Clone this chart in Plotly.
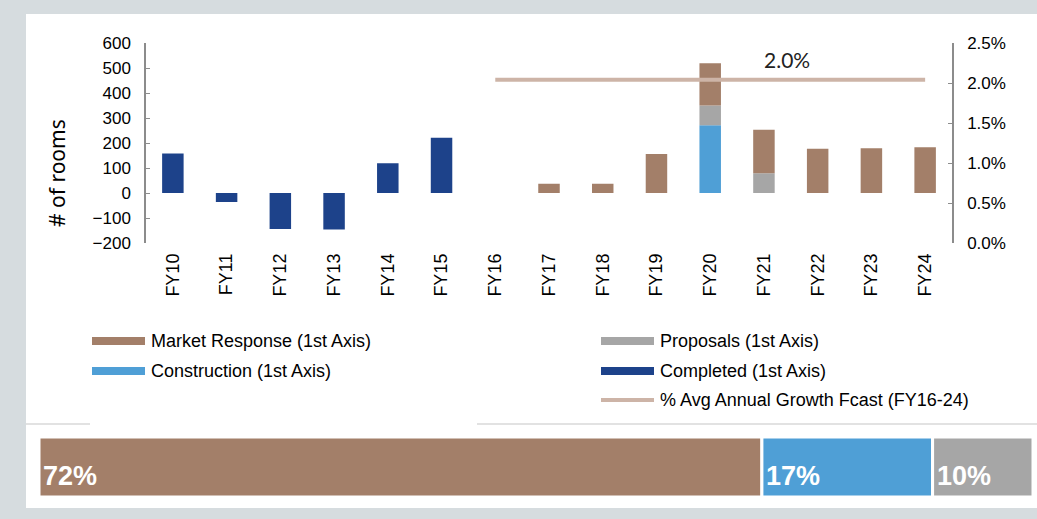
import plotly.graph_objects as go

# data
years = ["FY10", "FY11", "FY12", "FY13", "FY14", "FY15", "FY16", "FY17",
         "FY18", "FY19", "FY20", "FY21", "FY22", "FY23", "FY24"]
completed = [158, -36, -144, -146, 119, 221, None, None,
             None, None, None, None, None, None, None]
construction = [None, None, None, None, None, None, None, None,
                None, None, 271, None, None, None, None]
proposals = [None, None, None, None, None, None, None, None,
             None, None, 79, 79, None, None, None]
market_response = [None, None, None, None, None, None, None, 37,
                   37, 156, 169, 174, 177, 179, 183]
growth_years = ["FY16", "FY17", "FY18", "FY19", "FY20", "FY21", "FY22", "FY23", "FY24"]
growth_pct = [2.04, 2.04, 2.04, 2.04, 2.04, 2.04, 2.04, 2.04, 2.04]
growth_label = 2.0

share_names = ["Market Response", "Construction", "Proposals"]
share_pct = [72, 17, 10]

# colours
C_MARKET = "#A37F69"
C_CONSTR = "#4F9FD6"
C_PROP = "#A6A6A6"
C_DONE = "#1D428A"
C_LINE = "#CDB4A7"
C_FRAME = "#D6DCDF"
C_AXIS = "#8C8C8C"

W, H = 1037, 519
FONT = "Liberation Sans, Arial, sans-serif"


def px(x):
    return x / W


def py(y):
    return 1 - y / H


fig = go.Figure()

for name, vals, col in [("Completed (1st Axis)", completed, C_DONE),
                        ("Construction (1st Axis)", construction, C_CONSTR),
                        ("Proposals (1st Axis)", proposals, C_PROP),
                        ("Market Response (1st Axis)", market_response, C_MARKET)]:
    fig.add_trace(go.Bar(x=years, y=vals, name=name, marker=dict(color=col, line=dict(width=0)),
                         width=0.4, xaxis="x", yaxis="y", showlegend=False))

fig.add_trace(go.Scatter(x=growth_years, y=growth_pct, mode="lines",
                         name="% Avg Annual Growth Fcast (FY16-24)",
                         line=dict(color=C_LINE, width=4), xaxis="x", yaxis="y2",
                         showlegend=False))

# share strip
share_cols = [C_MARKET, C_CONSTR, C_PROP]
start = 0
for name, val, col in zip(share_names, share_pct, share_cols):
    fig.add_trace(go.Bar(x=[val], y=[0], base=[start], orientation="h", name=name,
                         marker=dict(color=col, line=dict(color="white", width=3)),
                         width=1, xaxis="x3", yaxis="y3", showlegend=False))
    fig.add_annotation(x=start, y=-0.5, xref="x3", yref="y3", text=f"<b>{val}%</b>",
                       showarrow=False, xanchor="left", yanchor="bottom", xshift=2, yshift=4,
                       font=dict(family=FONT, size=27, color="white"))
    start += val

shapes = [
    dict(type="rect", xref="paper", yref="paper", x0=px(26), x1=1, y0=py(508), y1=py(14),
         fillcolor="white", line=dict(width=0), layer="below"),
    dict(type="line", xref="paper", yref="paper", x0=px(26), x1=px(90), y0=py(424), y1=py(424),
         line=dict(color="#D9D9D9", width=1.5), layer="below"),
    dict(type="line", xref="paper", yref="paper", x0=px(477), x1=1, y0=py(424), y1=py(424),
         line=dict(color="#D9D9D9", width=1.5), layer="below"),
]

# manual legend
legend_items = [
    ("Market Response (1st Axis)", C_MARKET, 92, 341, "bar"),
    ("Proposals (1st Axis)", C_PROP, 601, 341, "bar"),
    ("Construction (1st Axis)", C_CONSTR, 92, 371, "bar"),
    ("Completed (1st Axis)", C_DONE, 601, 371, "bar"),
    ("% Avg Annual Growth Fcast (FY16-24)", C_LINE, 601, 400, "line"),
]
for text, col, x0, yc, kind in legend_items:
    if kind == "bar":
        shapes.append(dict(type="rect", xref="paper", yref="paper", x0=px(x0), x1=px(x0 + 53),
                           y0=py(yc + 4), y1=py(yc - 4), fillcolor=col, line=dict(width=0)))
    else:
        shapes.append(dict(type="line", xref="paper", yref="paper", x0=px(x0), x1=px(x0 + 53),
                           y0=py(yc), y1=py(yc), line=dict(color=col, width=4)))
    fig.add_annotation(x=px(x0 + 57), y=py(yc), xref="paper", yref="paper", text=text,
                       showarrow=False, xanchor="left", yanchor="middle",
                       font=dict(family=FONT, size=18, color="black"))

fig.add_annotation(x=px(57), y=py(173), xref="paper", yref="paper", text="# of rooms",
                   textangle=-90, showarrow=False, xanchor="center", yanchor="middle",
                   font=dict(family="Noto Sans, sans-serif", size=21, color="black"))
fig.add_annotation(x=px(787), y=py(60), xref="paper", yref="paper", text=f"{growth_label:.1f}%",
                   showarrow=False, xanchor="center", yanchor="middle",
                   font=dict(family="Lato, sans-serif", size=21, color="#222222"))

fig.update_layout(
    width=W, height=H,
    margin=dict(l=0, r=0, t=0, b=0, pad=0),
    paper_bgcolor=C_FRAME, plot_bgcolor="rgba(0,0,0,0)",
    barmode="relative",
    showlegend=False,
    shapes=shapes,
    font=dict(family=FONT, size=17, color="black"),
    xaxis=dict(domain=[px(146), px(952)], type="category", categoryorder="array",
               categoryarray=years, range=[-0.5, 14.5], tickangle=-90, showline=False,
               ticks="", showgrid=False, zeroline=False, anchor="y",
               tickfont=dict(size=18), ticklabelstandoff=6, automargin=False),
    yaxis=dict(domain=[py(243), py(43)], range=[-200, 600], dtick=100, showgrid=False,
               zeroline=False, showline=True, linecolor=C_AXIS, linewidth=1.5,
               ticks="inside", ticklen=4, tickcolor=C_AXIS, anchor="x",
               ticklabelstandoff=10, automargin=False),
    yaxis2=dict(overlaying="y", side="right", range=[0, 2.5], dtick=0.5, tickformat=".1f",
                ticksuffix="%", showgrid=False, zeroline=False, showline=True,
                linecolor=C_AXIS, linewidth=1.5, ticks="inside", ticklen=4,
                tickcolor=C_AXIS, anchor="x", ticklabelstandoff=10, automargin=False),
    xaxis3=dict(domain=[px(39), px(1033)], range=[0, 99], visible=False, anchor="y3",
                automargin=False),
    yaxis3=dict(domain=[py(497), py(437)], range=[-0.5, 0.5], visible=False, anchor="x3",
                automargin=False),
)

page_fix = (
    "document.body.style.margin='0';"
    "document.body.style.overflow='hidden';"
    "var gd=document.getElementById('{plot_id}');"
    "gd.style.position='fixed';gd.style.top='0px';gd.style.left='0px';"
)
fig.write_html("out.html", config={"displayModeBar": False}, post_script=page_fix)
